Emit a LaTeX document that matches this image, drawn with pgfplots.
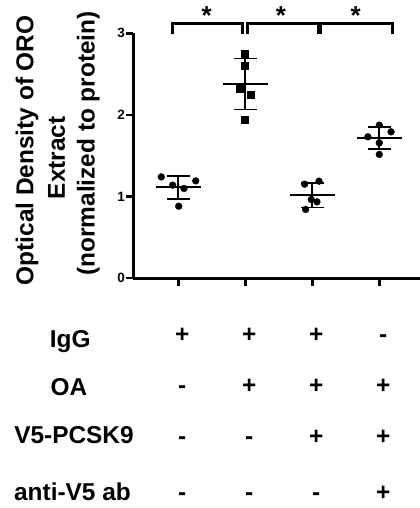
\documentclass[border=0pt]{standalone}
\usepackage{fontspec}
\setmainfont{Liberation Sans}
\usepackage{pgfplots}
\pgfplotsset{compat=1.18}
\newcommand{\lab}{\bfseries\fontsize{24.5}{31}\selectfont}
\begin{document}
\begin{tikzpicture}
\begin{axis}[
  at={(0,0)}, anchor=origin,
  x=67bp, y=81.63bp,
  xmin=-0.669, xmax=3.62, ymin=0, ymax=3,
  axis x line=bottom, axis y line=left,
  axis line style={-, line width=3bp, black},
  xtick={0,1,2,3}, xticklabels={},
  ytick={0,1,2,3},
  tick align=outside, major tick length=7.5bp,
  tick style={line width=2.5bp, black},
  /pgf/number format/assume math mode=true,
  yticklabel style={font=\bfseries\fontsize{13.5}{14}\selectfont, inner sep=1bp},
  clip=false,
]
% mean +- SD
\addplot[only marks, black, mark=-, mark size=22.3bp, mark options={line width=1.8bp},
  error bars/.cd, y dir=both, y explicit, error mark=|,
  error mark options={black, mark size=11.7bp, line width=1.8bp},
  error bar style={line width=1.8bp, black}]
  coordinates {(0,1.113) +- (0,0.141) (1,2.38) +- (0,0.3125) (2,1.015) +- (0,0.15) (3,1.718) +- (0,0.137)};
% individual points
\addplot[only marks, mark=*, mark size=3.4bp, black] coordinates {(-0.254,1.241) (-0.084,1.140) (0.085,1.099) (0.26,1.192) (0.006,0.882)};
\addplot[only marks, mark=square*, mark size=3.5bp, black] coordinates {(0.985,2.754) (0.985,2.598) (0.91,2.325) (1.075,2.243) (0.985,1.936)};
\addplot[only marks, mark=*, mark size=3.4bp, black] coordinates {(1.885,1.152) (2.1,1.189) (1.985,0.964) (2.07,0.935) (1.9,0.842)};
\addplot[only marks, mark=*, mark size=3.4bp, black] coordinates {(2.83,1.732) (3,1.875) (3.175,1.793) (3,1.658) (3,1.516)};
% significance brackets
\draw[line width=3bp] (axis cs:-0.084,2.99) -- (axis cs:-0.084,3.123) -- (axis cs:0.961,3.123) -- (axis cs:0.961,2.99);
\draw[line width=3bp] (axis cs:1.03,2.99) -- (axis cs:1.03,3.123) -- (axis cs:2.09,3.123) -- (axis cs:2.09,2.99);
\draw[line width=3bp] (axis cs:2.115,2.99) -- (axis cs:2.115,3.123) -- (axis cs:3.2,3.123) -- (axis cs:3.2,2.99);
\node[anchor=base, inner sep=0pt, font=\bfseries\fontsize{26}{26}\selectfont] at (axis cs:0.424,3.11) {*};
\node[anchor=base, inner sep=0pt, font=\bfseries\fontsize{26}{26}\selectfont] at (axis cs:1.533,3.11) {*};
\node[anchor=base, inner sep=0pt, font=\bfseries\fontsize{26}{26}\selectfont] at (axis cs:2.648,3.11) {*};
\end{axis}
% y label
\node[rotate=90, anchor=base, inner sep=0pt, font=\lab] at (-145bp,127.8bp) {Optical Density of ORO};
\node[rotate=90, anchor=base, inner sep=0pt, font=\lab] at (-113.3bp,120.3bp) {Extract};
\node[rotate=90, anchor=base, inner sep=0pt, font=\lab] at (-83.7bp,134.8bp) {(normalized to protein)};
% treatment table
\begin{scope}[every node/.style={anchor=base, inner sep=0pt, font=\lab}]
\node at (-108bp,-69.5bp) {IgG};
\node at (-109.3bp,-117.2bp) {OA};
\node at (-104.3bp,-165.5bp) {V5-PCSK9};
\node at (-105.8bp,-222.2bp) {anti-V5 ab};
\foreach \s [count=\i from 0] in {+,+,+,-} {\node at (4bp+67bp*\i,-64.2bp) {\s};}
\foreach \s [count=\i from 0] in {-,+,+,+} {\node at (4bp+67bp*\i,-115.7bp) {\s};}
\foreach \s [count=\i from 0] in {-,-,+,+} {\node at (4bp+67bp*\i,-166.2bp) {\s};}
\foreach \s [count=\i from 0] in {-,-,-,+} {\node at (4bp+67bp*\i,-222.7bp) {\s};}
\end{scope}
\pgfresetboundingbox
\path[use as bounding box] (-178.3bp,-229.8bp) rectangle (241.7bp,278.2bp);
\end{tikzpicture}
\end{document}
